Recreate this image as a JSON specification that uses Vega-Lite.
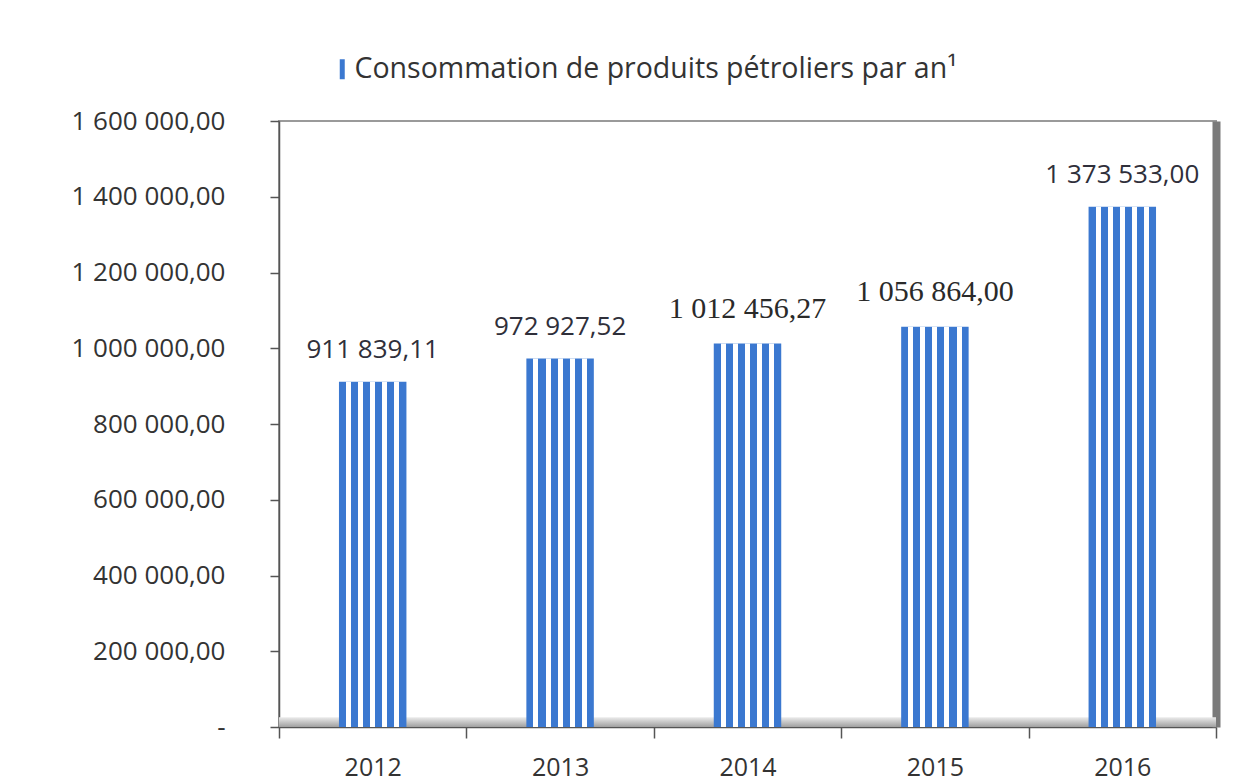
{
  "$schema": "https://vega.github.io/schema/vega-lite/v6.json",
  "width": 937,
  "height": 606,
  "autosize": {"type": "none"},
  "padding": {"left": 279, "top": 121, "right": 21, "bottom": 56},
  "background": "white",
  "config": {
    "font": "Open Sans",
    "view": {"stroke": "#9a9a9a", "strokeWidth": 2},
    "axisX": {
      "title": null, "grid": false, "labelAngle": 0, "tickBand": "extent",
      "tickSize": 11, "tickColor": "#555555", "tickWidth": 1.5,
      "domainColor": "#555555", "domainWidth": 1.5,
      "labelFontSize": 25, "labelColor": "#333333", "labelPadding": 17, "labelFont": "Open Sans"
    },
    "axisY": {"title": null, "grid": false}
  },
  "data": {
    "values": [
      {"year": "2012", "value": 911839.11, "label": "911 839,11"},
      {"year": "2013", "value": 972927.52, "label": "972 927,52"},
      {"year": "2014", "value": 1012456.27, "label": "1 012 456,27"},
      {"year": "2015", "value": 1056864.00, "label": "1 056 864,00"},
      {"year": "2016", "value": 1373533.00, "label": "1 373 533,00"}
    ]
  },
  "resolve": {"axis": {"y": "independent"}},
  "layer": [
    {
      "data": {"values": [{}]},
      "mark": {
        "type": "rect",
        "fill": {
          "gradient": "linear", "x1": 0, "y1": 0, "x2": 0, "y2": 1,
          "stops": [{"offset": 0, "color": "#ececec"}, {"offset": 1, "color": "#a0a0a0"}]
        }
      },
      "encoding": {
        "y": {"datum": 0, "type": "quantitative", "scale": {"domain": [0, 1600000], "nice": false}, "axis": null},
        "y2": {"datum": 26000}
      }
    },
    {
      "mark": {"type": "bar", "width": {"band": 0.36}},
      "encoding": {
        "x": {"field": "year", "type": "nominal", "scale": {"paddingInner": 0, "paddingOuter": 0}},
        "y": {
          "field": "value", "type": "quantitative",
          "scale": {"domain": [0, 1600000], "nice": false},
          "axis": {
            "values": [0, 200000, 400000, 600000, 800000, 1000000, 1200000, 1400000, 1600000],
            "labelExpr": "datum.value == 0 ? '-\u00a0\u00a0' : replace(replace(format(datum.value, ',.2f'), regexp(',', 'g'), ' '), '.', ',')",
            "tickSize": 9, "tickColor": "#555555", "tickWidth": 1.5,
            "domainColor": "#555555", "domainWidth": 1.5,
            "labelFontSize": 26, "labelColor": "#333333", "labelPadding": 45, "labelFont": "Open Sans"
          }
        },
        "color": {
          "datum": "Consommation de produits pétroliers par an¹", "type": "nominal",
          "scale": {"range": ["#3b78d0"]},
          "legend": {
            "title": null, "orient": "none", "legendX": 49, "legendY": -66,
            "symbolType": "M-0.25,-1H0.25V1H-0.25Z", "symbolSize": 400, "symbolStrokeWidth": 0,
            "labelFontSize": 28.5, "labelColor": "#333333", "labelOffset": -2, "labelLimit": 0, "labelFont": "Open Sans"
          }
        }
      }
    },
    {
      "mark": {
        "type": "bar",
        "width": {"band": 0.36},
        "fill": {
          "gradient": "linear", "x1": 0, "y1": 0, "x2": 1, "y2": 0,
          "stops": [
            {"offset": 0, "color": "rgba(255,255,255,0)"},
            {"offset": 0.1045, "color": "rgba(255,255,255,0)"},
            {"offset": 0.1045, "color": "#ffffff"},
            {"offset": 0.1791, "color": "#ffffff"},
            {"offset": 0.1791, "color": "rgba(255,255,255,0)"},
            {"offset": 0.2836, "color": "rgba(255,255,255,0)"},
            {"offset": 0.2836, "color": "#ffffff"},
            {"offset": 0.3582, "color": "#ffffff"},
            {"offset": 0.3582, "color": "rgba(255,255,255,0)"},
            {"offset": 0.4627, "color": "rgba(255,255,255,0)"},
            {"offset": 0.4627, "color": "#ffffff"},
            {"offset": 0.5373, "color": "#ffffff"},
            {"offset": 0.5373, "color": "rgba(255,255,255,0)"},
            {"offset": 0.6418, "color": "rgba(255,255,255,0)"},
            {"offset": 0.6418, "color": "#ffffff"},
            {"offset": 0.7164, "color": "#ffffff"},
            {"offset": 0.7164, "color": "rgba(255,255,255,0)"},
            {"offset": 0.8209, "color": "rgba(255,255,255,0)"},
            {"offset": 0.8209, "color": "#ffffff"},
            {"offset": 0.8955, "color": "#ffffff"},
            {"offset": 0.8955, "color": "rgba(255,255,255,0)"},
            {"offset": 1, "color": "rgba(255,255,255,0)"}
          ]
        }
      },
      "encoding": {
        "x": {"field": "year", "type": "nominal"},
        "y": {
          "field": "value", "type": "quantitative",
          "scale": {"domain": [0, 1600000], "nice": false},
          "axis": {"orient": "right", "labels": false, "ticks": false, "domainColor": "#7a7a7a", "domainWidth": 8}
        }
      }
    },
    {
      "transform": [{"filter": "datum.year != '2014' && datum.year != '2015'"}],
      "mark": {"type": "text", "baseline": "middle", "dy": -32, "fontSize": 26, "font": "Open Sans", "color": "#2f2f3a"},
      "encoding": {
        "x": {"field": "year", "type": "nominal"},
        "y": {"field": "value", "type": "quantitative", "axis": null},
        "text": {"field": "label"}
      }
    },
    {
      "transform": [{"filter": "datum.year == '2014' || datum.year == '2015'"}],
      "mark": {"type": "text", "baseline": "middle", "dy": -35, "fontSize": 30, "font": "Liberation Serif", "color": "#2a2a2a"},
      "encoding": {
        "x": {"field": "year", "type": "nominal"},
        "y": {"field": "value", "type": "quantitative", "axis": null},
        "text": {"field": "label"}
      }
    }
  ]
}
